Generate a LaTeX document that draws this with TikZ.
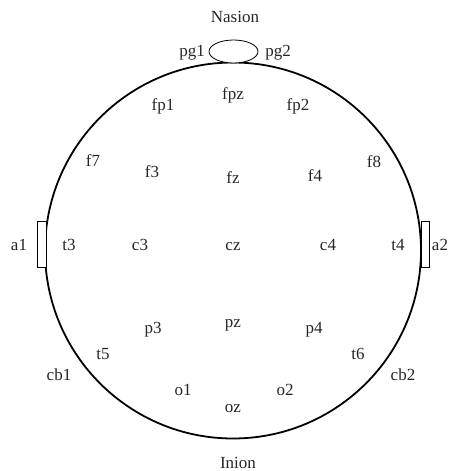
\documentclass[tikz,border=0pt]{standalone}
\usepackage{fontspec}
\setmainfont{Liberation Serif}
\begin{document}
\begin{tikzpicture}[x=1pt,y=-1pt,
  lbl/.style={anchor=base,inner sep=0pt,font=\fontsize{17}{20}\selectfont,text=black!85},
  head/.style={draw=black,line width=1.8pt},
  thin/.style={draw=black,line width=0.8pt}]
\useasboundingbox (0,0) rectangle (449,471);
% head
\draw[head] (233,250.5) circle [radius=188];
\draw[thin,fill=white] (233.5,51.5) ellipse [x radius=24.5, y radius=11.5];
\draw[thin,fill=white] (37,221) rectangle (46.5,267);
\draw[thin,fill=white] (421.5,221) rectangle (429,267);
% labels
\node[lbl] (nasion) at (235,23) {Nasion};
\node[lbl] (pg1) at (192,56) {pg1};
\node[lbl] (pg2) at (278,56) {pg2};
\node[lbl] (fpz) at (233,99) {fpz};
\node[lbl] (fp1) at (163,110) {fp1};
\node[lbl] (fp2) at (298,110) {fp2};
\node[lbl] (f7) at (93,166) {f7};
\node[lbl] (f8) at (374,167) {f8};
\node[lbl] (f3) at (152,177) {f3};
\node[lbl] (fz) at (233,183) {fz};
\node[lbl] (f4) at (315,181) {f4};
\node[lbl] (a1) at (19,250) {a1};
\node[lbl] (t3) at (69,250) {t3};
\node[lbl] (c3) at (140,250) {c3};
\node[lbl] (cz) at (233,250) {cz};
\node[lbl] (c4) at (328,250) {c4};
\node[lbl] (t4) at (398,250) {t4};
\node[lbl] (a2) at (440,250) {a2};
\node[lbl] (pz) at (233,327) {pz};
\node[lbl] (p3) at (153,333) {p3};
\node[lbl] (p4) at (314,333) {p4};
\node[lbl] (t5) at (103,359) {t5};
\node[lbl] (t6) at (358,359) {t6};
\node[lbl] (cb1) at (59,380) {cb1};
\node[lbl] (cb2) at (403,380) {cb2};
\node[lbl] (o1) at (183,395) {o1};
\node[lbl] (o2) at (285,395) {o2};
\node[lbl] (oz) at (233,412) {oz};
\node[lbl] (inion) at (238,468) {Inion};
\end{tikzpicture}
\end{document}
